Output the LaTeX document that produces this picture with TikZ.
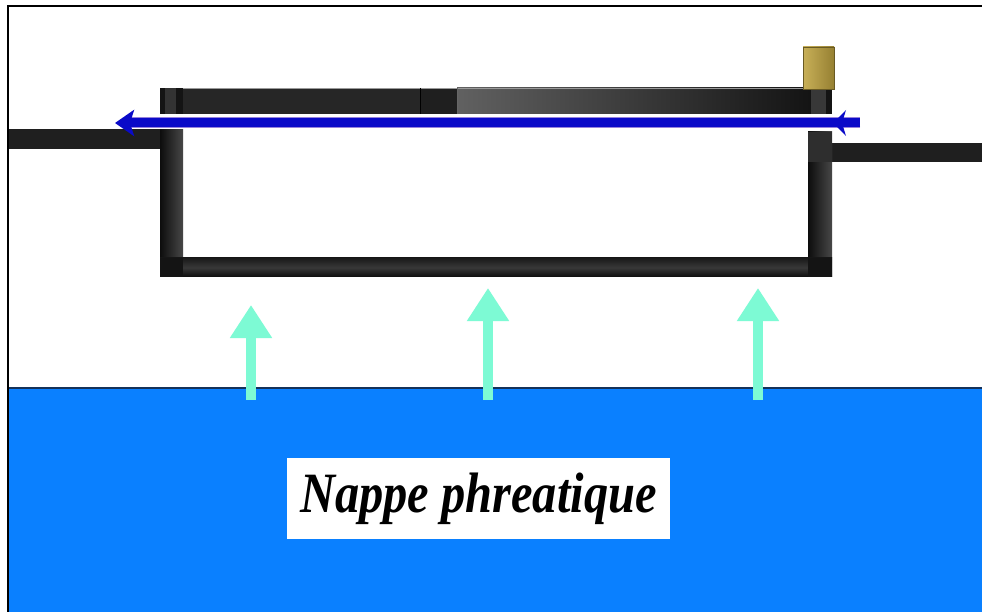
\documentclass[tikz,border=0pt]{standalone}
\usepackage{graphicx}
\usepackage{fontspec}
\setmainfont{Liberation Serif}
\usetikzlibrary{arrows.meta}
\definecolor{water}{RGB}{10,128,255}
\definecolor{waterline}{RGB}{20,50,90}
\definecolor{seep}{RGB}{125,250,212}
\definecolor{flow}{RGB}{10,10,200}
\definecolor{flowedge}{RGB}{150,130,220}
\definecolor{brass}{RGB}{200,176,88}
\definecolor{brassdark}{RGB}{150,128,50}
\tikzset{
  pipe/.style={fill=black!88},
  joint/.style={fill=black!92},
  seeparrow/.style={draw=seep, line width=10pt, -{Triangle[length=33pt,width=40pt]}},
  flowarrow/.style={draw=flow, line width=9pt, -{Stealth[length=19pt,width=26pt,inset=4pt]}},
  labelbox/.style={fill=white, minimum width=383pt, minimum height=81pt, inner sep=0pt,
    font=\fontsize{57}{60}\selectfont\bfseries\itshape}
}
\begin{document}
\begin{tikzpicture}[x=1pt,y=-1pt]
\useasboundingbox (0,0) rectangle (982,612);
\fill[white] (0,0) rectangle (982,612);

% ground water
\fill[water] (9,388) rectangle (982,612);
\draw[waterline, line width=1.5pt] (9,388) -- (982,388);

% frame
\draw[black, line width=2.5pt] (8,612) -- (8,6) -- (982,6);

% inlet and outlet pipes
\fill[pipe] (9,129) rectangle (160,149);
\fill[pipe] (832,143) rectangle (982,162);

% top slab
\fill[black!85] (183,88) rectangle (420,114);
\fill[black!88] (420,88) rectangle (457,114);
\shade[left color=black!62, right color=black!92] (457,88) rectangle (808,114);
\draw[black!40, line width=0.6pt] (160,88.5) -- (832,88.5);
\fill[joint] (160,88) rectangle (183,114);
\fill[black!80] (165,88) rectangle (176,114);
\fill[joint] (808,88) rectangle (832,114);
\fill[black!78] (811,88) rectangle (826,114);
\draw[black, line width=0.8pt] (420,88) -- (420,114);
\draw[black!60, line width=0.6pt] (457,88) -- (457,114);

% side walls
\shade[left color=black!95, right color=black!72] (160,130) rectangle (183,277);
\shade[left color=black!95, right color=black!72] (808,132) rectangle (832,277);
\fill[black!82] (808,132) rectangle (832,162);

% bottom slab
\shade[top color=black!90, bottom color=black!95, middle color=black!78] (160,258) rectangle (832,277);
\fill[black!92] (160,258) rectangle (183,277);
\fill[black!92] (808,258) rectangle (832,277);

% float valve cap
\shade[left color=brass, right color=brassdark] (803,47) rectangle (834,89);
\draw[brassdark!70!black, line width=0.5pt] (803,47) rectangle (834,89);

% flow through the top of the trench
\coordinate (fin) at (860,123);
\coordinate (fout) at (115,123);
\coordinate (fmark) at (833,123);
\draw[flowedge, line width=11pt] (fin) -- (128,123);
\draw[flowarrow] (fin) -- (fout);
\fill[flow] (fmark) -- (846,110) -- (842,123) -- (846,136) -- cycle;

% water rising from the water table
\coordinate (s1) at (251,400);
\coordinate (t1) at (251,305);
\coordinate (s2) at (488,400);
\coordinate (t2) at (488,288);
\coordinate (s3) at (758,400);
\coordinate (t3) at (758,288);
\draw[seeparrow] (s1) -- (t1);
\draw[seeparrow] (s2) -- (t2);
\draw[seeparrow] (s3) -- (t3);

% label
\node[labelbox] (nappe) at (478.5,498.5) {\raisebox{-5pt}{\scalebox{0.85}[1]{Nappe phreatique}}};
\end{tikzpicture}
\end{document}
